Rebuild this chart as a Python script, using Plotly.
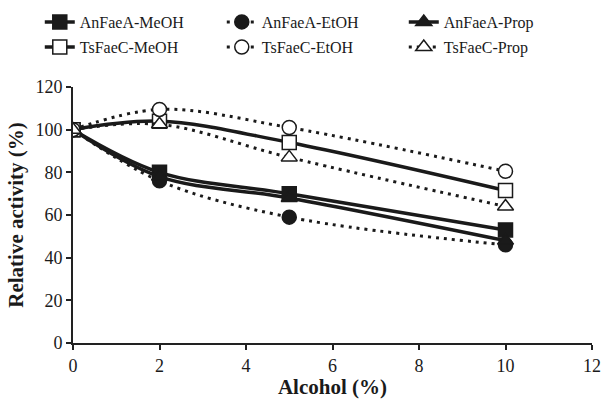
import plotly.graph_objects as go

alcohol = [0, 2, 5, 10]
an_meoh = [100, 80, 70, 53]
an_etoh = [100, 76, 59, 46]
an_prop = [100, 78, 68, 48]
ts_meoh = [100, 104, 94, 71.5]
ts_etoh = [100, 109.5, 101, 80.5]
ts_prop = [100, 102.5, 87, 64]

series = [
    ("AnFaeA-MeOH", an_meoh, "solid", "square", "#1a1a1a", "legend"),
    ("AnFaeA-EtOH", an_etoh, "3px,5px", "circle", "#1a1a1a", "legend"),
    ("AnFaeA-Prop", an_prop, "solid", "triangle-up", "#1a1a1a", "legend"),
    ("TsFaeC-MeOH", ts_meoh, "solid", "square", "white", "legend2"),
    ("TsFaeC-EtOH", ts_etoh, "3px,5px", "circle", "white", "legend2"),
    ("TsFaeC-Prop", ts_prop, "3px,5px", "triangle-up", "white", "legend2"),
]

fig = go.Figure()
for name, vals, dash, sym, fill, leg in series:
    fig.add_trace(go.Scatter(
        x=alcohol, y=vals, name=name, mode="lines+markers", legend=leg,
        line=dict(color="#1a1a1a", width=3.5 if dash == "solid" else 3,
                  dash=dash, shape="spline", smoothing=1),
        marker=dict(symbol=sym, size=14, color=fill,
                    line=dict(color="#1a1a1a", width=1.5)),
    ))

font_family = "Liberation Serif, Times New Roman, serif"
leg_common = dict(
    orientation="h", xref="paper", yref="paper",
    x=-0.064, xanchor="left", yanchor="middle",
    entrywidth=137, font=dict(size=16, family=font_family),
    bgcolor="rgba(0,0,0,0)",
)
fig.update_layout(
    width=601, height=399,
    margin=dict(l=73, r=9, t=87, b=56, autoexpand=False),
    paper_bgcolor="white", plot_bgcolor="white",
    font=dict(family=font_family, color="#1a1a1a", size=18),
    legend=dict(y=1.254, **leg_common),
    legend2=dict(y=1.156, **leg_common),
    xaxis=dict(
        range=[0, 12], tickvals=[0, 2, 4, 6, 8, 10, 12],
        showline=True, linecolor="#222", linewidth=2,
        ticks="outside", ticklen=5, tickwidth=1.5, tickcolor="#222",
        showgrid=False, zeroline=False,
        title=dict(text="<b>Alcohol (%)</b>", font=dict(size=21), standoff=2),
    ),
    yaxis=dict(
        range=[0, 120], tickvals=[0, 20, 40, 60, 80, 100, 120],
        showline=True, linecolor="#222", linewidth=2,
        ticks="outside", ticklen=5, tickwidth=1.5, tickcolor="#222",
        showgrid=False, zeroline=False,
        title=dict(text="<b>Relative activity (%)</b>", font=dict(size=21), standoff=6),
    ),
)
fig.write_html(
    "out.html",
    config={"displayModeBar": False},
    post_script="document.body.style.margin='0px';document.body.style.overflow='hidden';",
)
